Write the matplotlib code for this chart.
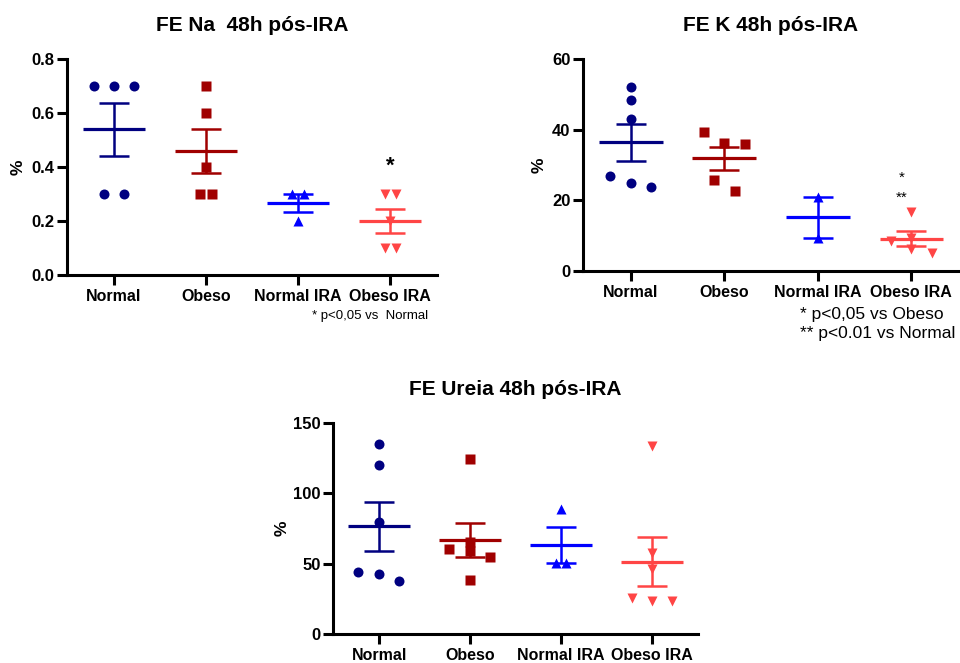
import numpy as np
import matplotlib
matplotlib.use('Agg')
import matplotlib.pyplot as plt

plt.rcParams['font.family'] = ['Liberation Sans', 'DejaVu Sans']

grupos = ['Normal', 'Obeso', 'Normal IRA', 'Obeso IRA']
cores = ['#000080', '#A00000', '#0000FF', '#FF4545']
marcadores = ['o', 's', '^', 'v']
tam_marc = [7.2, 6.8, 7.8, 7.8]

# FE Na (%)
na_normal = [0.7, 0.7, 0.7, 0.3, 0.3]
na_obeso = [0.7, 0.6, 0.4, 0.3, 0.3]
na_normal_ira = [0.3, 0.3, 0.2]
na_obeso_ira = [0.3, 0.3, 0.2, 0.1, 0.1]

# FE K (%)
k_normal = [52.2, 48.3, 42.9, 26.8, 24.8, 23.8]
k_obeso = [39.3, 36.3, 35.8, 25.8, 22.5]
k_normal_ira = [21.0, 9.3]
k_obeso_ira = [16.6, 8.6, 9.3, 6.2, 5.1]

# FE Ureia (%)
ur_normal = [135.0, 120.0, 79.8, 44.3, 42.6, 37.9]
ur_obeso = [124.6, 60.2, 65.4, 59.0, 55.0, 38.4]
ur_normal_ira = [88.6, 50.7, 50.7]
ur_obeso_ira = [133.6, 57.3, 46.0, 25.8, 23.2, 23.2]

# deslocamento horizontal dos pontos (fração do espaço entre grupos)
na_desloc = [[-0.22, 0, 0.22, -0.11, 0.11],
             [0, 0, 0, -0.065, 0.065],
             [-0.065, 0.065, 0],
             [-0.06, 0.06, 0, -0.06, 0.06]]
k_desloc = [[0, 0, 0, -0.22, 0, 0.22],
            [-0.22, 0, 0.22, -0.11, 0.11],
            [0, 0],
            [0, -0.22, 0, 0, 0.22]]
ur_desloc = [[0, 0, 0, -0.23, 0, 0.22],
             [0, -0.23, 0, 0, 0.22, 0],
             [0, -0.055, 0.055],
             [0, 0, 0, -0.22, 0, 0.22]]


def painel(ax, dados, desloc, titulo, yticks, yfmt, xlab_ylabel):
    for i, (vals, dx) in enumerate(zip(dados, desloc)):
        vals = np.array(vals)
        x = i + np.array(dx)
        media = vals.mean()
        epm = vals.std(ddof=1) / np.sqrt(len(vals))
        ax.plot(x, vals, ls='none', marker=marcadores[i], ms=tam_marc[i],
                color=cores[i], mec='none', zorder=3, clip_on=False)
        ax.hlines(media, i - 0.34, i + 0.34, color=cores[i], lw=2.3, zorder=4)
        ax.errorbar(i, media, yerr=epm, fmt='none', ecolor=cores[i],
                    elinewidth=1.8, capsize=11, capthick=1.8, zorder=4)

    ax.set_xlim(-0.51, 3.51)
    ax.set_ylim(yticks[0], yticks[-1])
    ax.set_xticks(range(4))
    ax.set_xticklabels(grupos, fontsize=11.5, fontweight='bold')
    ax.set_yticks(yticks)
    ax.set_yticklabels([yfmt.format(v) for v in yticks], fontsize=12, fontweight='bold')
    ax.spines[['top', 'right']].set_visible(False)
    ax.spines[['left', 'bottom']].set_linewidth(2.2)
    ax.tick_params(length=7, width=2.2, pad=3)
    ax.tick_params(axis='y', pad=2)
    ax.set_title(titulo, fontsize=15, fontweight='bold', pad=20)
    ax.set_ylabel('%', fontsize=12.5, fontweight='bold')
    ax.yaxis.set_label_coords(xlab_ylabel, 0.5)


fig = plt.figure(figsize=(9.6, 6.63), dpi=100)

ax1 = fig.add_axes([0.0698, 0.5852, 0.3854, 0.3258])
painel(ax1, [na_normal, na_obeso, na_normal_ira, na_obeso_ira], na_desloc,
       'FE Na  48h pós-IRA', [0.0, 0.2, 0.4, 0.6, 0.8], '{:.1f}', -0.111)
ax1.text(3, 0.44, '*', ha='center', va='top', fontsize=16, fontweight='bold')
ax1.text(0.662, -0.19, '* p<0,05 vs  Normal', transform=ax1.transAxes,
         ha='left', va='center', fontsize=9.5)

ax2 = fig.add_axes([0.6073, 0.5913, 0.3917, 0.3198])
painel(ax2, [k_normal, k_obeso, k_normal_ira, k_obeso_ira], k_desloc,
       'FE K 48h pós-IRA', [0, 20, 40, 60], '{:.0f}', -0.098)
ax2.text(2.9, 28.3, '*', ha='center', va='top', fontsize=11)
ax2.text(2.9, 22.6, '**', ha='center', va='top', fontsize=11)
ax2.text(0.577, -0.203, '* p<0,05 vs Obeso', transform=ax2.transAxes,
         ha='left', va='center', fontsize=12.5)
ax2.text(0.577, -0.297, '** p<0.01 vs Normal', transform=ax2.transAxes,
         ha='left', va='center', fontsize=12.5)

ax3 = fig.add_axes([0.3469, 0.0437, 0.3802, 0.3183])
painel(ax3, [ur_normal, ur_obeso, ur_normal_ira, ur_obeso_ira], ur_desloc,
       'FE Ureia 48h pós-IRA', [0, 50, 100, 150], '{:.0f}', -0.118)

fig.savefig('out.png', dpi=100)
